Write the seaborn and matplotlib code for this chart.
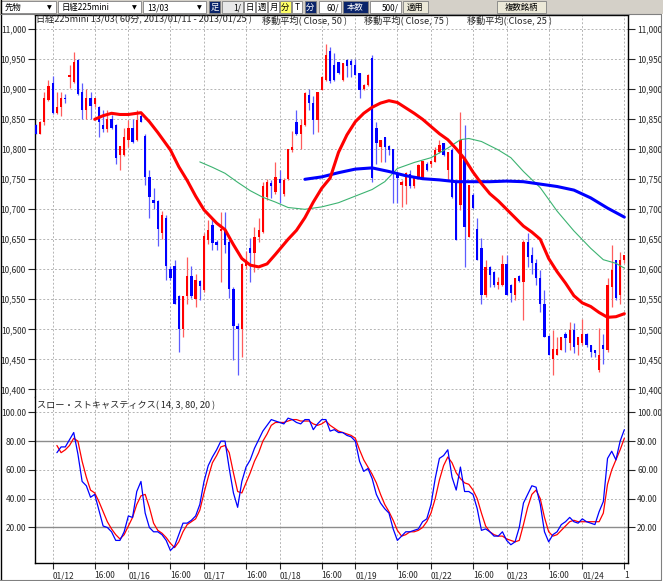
import numpy as np
import pandas as pd
import matplotlib
matplotlib.use("Agg")
import matplotlib.pyplot as plt
import seaborn as sns
from matplotlib.patches import Rectangle
from matplotlib.ticker import FuncFormatter

sns.set_style("white")
plt.rcParams['font.family'] = ['Noto Sans CJK JP', 'DejaVu Sans']

# ---------------- data (60-minute bars, index 0..140) ----------------
opens = [10840, 10825, 10845, 10882, 10911, 10861, 10870, 10886, 10921, 10912,
         10948, 10895, 10866, 10885, 10876, 10870, 10840, 10833, 10850, 10840,
         10790, 10790, 10816, 10835, 10815, 10856, 10822, 10754, 10716, 10713,
         10660, 10685, 10600, 10605, 10555, 10500, 10555, 10589, 10551, 10580,
         10566, 10649, 10674, 10646, 10664, 10664, 10645, 10567, 10506, 10500,
         10605, 10635, 10627, 10654, 10663, 10720, 10744, 10729, 10750, 10726,
         10750, 10799, 10846, 10825, 10840, 10890, 10877, 10849, 10899, 10916,
         10963, 10941, 10945, 10915, 10948, 10947, 10940, 10927, 10900, 10907,
         10952, 10835, 10804, 10821, 10806, 10800, 10760, 10740, 10738, 10759,
         10738, 10754, 10752, 10776, 10776, 10779, 10796, 10810, 10765, 10799,
         10743, 10707, 10785, 10654, 10724, 10668, 10635, 10557, 10604, 10596,
         10574, 10574, 10609, 10574, 10557, 10589, 10579, 10646, 10624, 10610,
         10585, 10543, 10489, 10451, 10457, 10465, 10493, 10477, 10499, 10474,
         10477, 10493, 10474, 10466, 10432, 10474, 10466, 10571, 10616, 10557,
         10616]
highs = [10842, 10847, 10896, 10915, 10922, 10896, 10896, 10892, 10940, 10962,
         10950, 10911, 10900, 10896, 10886, 10872, 10866, 10866, 10857, 10842,
         10806, 10835, 10849, 10850, 10866, 10858, 10826, 10765, 10735, 10716,
         10697, 10690, 10605, 10616, 10558, 10555, 10620, 10605, 10593, 10582,
         10661, 10682, 10685, 10649, 10696, 10696, 10650, 10570, 10510, 10610,
         10630, 10652, 10671, 10685, 10745, 10750, 10749, 10779, 10765, 10752,
         10800, 10831, 10865, 10851, 10896, 10900, 10888, 10896, 10922, 10976,
         10971, 10960, 10946, 10944, 10950, 10951, 10951, 10927, 10908, 10925,
         10957, 10846, 10816, 10821, 10807, 10801, 10762, 10748, 10762, 10765,
         10756, 10776, 10781, 10779, 10782, 10804, 10815, 10811, 10796, 10802,
         10749, 10862, 10840, 10741, 10727, 10685, 10652, 10616, 10605, 10597,
         10588, 10624, 10624, 10575, 10585, 10591, 10649, 10660, 10638, 10618,
         10599, 10565, 10490, 10499, 10488, 10488, 10496, 10513, 10510, 10488,
         10518, 10494, 10474, 10466, 10502, 10493, 10585, 10640, 10616, 10629,
         10624]
lows = [10825, 10825, 10840, 10880, 10858, 10858, 10855, 10877, 10902, 10910,
        10890, 10850, 10850, 10850, 10870, 10820, 10829, 10829, 10833, 10776,
        10765, 10788, 10804, 10810, 10814, 10845, 10740, 10685, 10700, 10639,
        10650, 10583, 10582, 10543, 10463, 10488, 10543, 10552, 10538, 10549,
        10562, 10643, 10633, 10633, 10579, 10628, 10553, 10449, 10424, 10454,
        10600, 10579, 10596, 10646, 10660, 10715, 10719, 10726, 10710, 10722,
        10749, 10795, 10824, 10800, 10838, 10866, 10826, 10829, 10898, 10914,
        10910, 10913, 10926, 10914, 10920, 10920, 10923, 10885, 10898, 10906,
        10746, 10776, 10779, 10779, 10790, 10710, 10710, 10704, 10708, 10735,
        10736, 10751, 10750, 10764, 10770, 10779, 10793, 10788, 10749, 10719,
        10649, 10699, 10604, 10654, 10701, 10615, 10543, 10554, 10571, 10571,
        10568, 10572, 10557, 10546, 10549, 10579, 10515, 10604, 10593, 10574,
        10529, 10488, 10457, 10424, 10457, 10465, 10463, 10466, 10460, 10457,
        10474, 10471, 10454, 10454, 10429, 10443, 10463, 10538, 10549, 10543,
        10610]
closes = [10825, 10845, 10885, 10905, 10861, 10870, 10885, 10884, 10923, 10946,
          10892, 10866, 10885, 10872, 10885, 10845, 10833, 10850, 10835, 10785,
          10805, 10821, 10835, 10812, 10849, 10846, 10754, 10721, 10710, 10668,
          10690, 10605, 10586, 10543, 10500, 10555, 10589, 10555, 10582, 10572,
          10655, 10666, 10644, 10640, 10667, 10640, 10568, 10505, 10500, 10609,
          10616, 10627, 10654, 10666, 10738, 10745, 10738, 10754, 10744, 10749,
          10800, 10804, 10825, 10840, 10893, 10877, 10849, 10896, 10921, 10957,
          10913, 10915, 10927, 10943, 10938, 10940, 10924, 10899, 10907, 10924,
          10752, 10810, 10816, 10804, 10799, 10763, 10752, 10746, 10760, 10738,
          10754, 10774, 10781, 10765, 10781, 10799, 10807, 10791, 10796, 10721,
          10649, 10816, 10671, 10740, 10702, 10615, 10557, 10604, 10590, 10574,
          10579, 10609, 10557, 10560, 10585, 10581, 10646, 10620, 10610, 10585,
          10543, 10488, 10457, 10468, 10468, 10488, 10485, 10499, 10471, 10488,
          10493, 10474, 10463, 10460, 10457, 10468, 10574, 10599, 10552, 10616,
          10624]

# moving averages (bar index, price)
ma25_idx = [14, 16, 18, 20, 22, 25, 27, 29, 32, 34, 36, 38, 40, 43, 45, 47, 49, 51,
            53, 55, 57, 60, 62, 64, 66, 68, 70, 72, 74, 76, 78, 80, 82, 84, 86, 88,
            90, 92, 94, 96, 98, 100, 102, 104, 106, 108, 110, 112, 114, 116, 118,
            120, 122, 124, 126, 128, 130, 132, 134, 136, 138, 140]
ma25_val = [10850, 10856, 10860, 10858, 10858, 10861, 10846, 10828, 10799, 10771,
            10748, 10722, 10699, 10677, 10666, 10641, 10618, 10607, 10604, 10609,
            10625, 10650, 10665, 10686, 10712, 10735, 10752, 10795, 10824, 10846,
            10860, 10870, 10877, 10881, 10878, 10869, 10860, 10850, 10838, 10826,
            10816, 10801, 10784, 10762, 10743, 10726, 10714, 10700, 10686, 10672,
            10662, 10650, 10618, 10596, 10577, 10556, 10544, 10538, 10528, 10520,
            10521, 10526]
ma50_idx = [39, 42, 45, 48, 51, 54, 57, 60, 64, 68, 72, 76, 80, 83, 86, 90, 94, 98,
            101, 103, 106, 110, 113, 116, 120, 124, 128, 132, 135, 138, 140]
ma50_val = [10779, 10770, 10760, 10745, 10731, 10720, 10712, 10703, 10700, 10704,
            10711, 10722, 10733, 10746, 10768, 10778, 10786, 10802, 10816, 10818,
            10813, 10799, 10786, 10763, 10736, 10697, 10664, 10635, 10616, 10610,
            10602]
ma75_idx = [64, 68, 72, 76, 80, 84, 88, 92, 96, 100, 104, 108, 112, 116, 120, 124,
            128, 132, 136, 140]
ma75_val = [10750, 10754, 10761, 10767, 10769, 10763, 10756, 10751, 10749, 10746,
            10746, 10746, 10747, 10746, 10742, 10738, 10732, 10719, 10702, 10687]

# slow stochastics (bar index 5..140)
stoch_idx = list(range(5, 141))
stoch_k = [72, 76, 76, 81, 86, 71, 52, 49, 41, 43, 32, 21, 20, 17, 11, 11, 17, 28, 27,
           45, 52, 30, 20, 17, 17, 15, 11, 4, 7, 15, 23, 23, 25, 28, 36, 52, 63, 69,
           74, 80, 80, 61, 44, 34, 52, 62, 67, 75, 81, 87, 91, 95, 94, 93, 92, 96, 95,
           93, 92, 95, 95, 88, 92, 95, 95, 87, 88, 86, 86, 84, 83, 80, 66, 59, 61, 54,
           43, 37, 33, 30, 19, 11, 14, 17, 17, 18, 19, 24, 26, 36, 54, 68, 70, 74, 55,
           46, 62, 45, 45, 43, 33, 18, 19, 17, 14, 14, 17, 11, 8, 10, 20, 37, 43, 49,
           48, 36, 17, 10, 15, 17, 22, 24, 27, 24, 23, 26, 24, 23, 22, 31, 38, 68, 73,
           67, 80, 88]
stoch_d = [77, 72, 74, 77, 82, 80, 66, 55, 46, 44, 38, 31, 24, 19, 15, 12, 15, 21, 27,
           36, 42, 43, 34, 23, 18, 16, 13, 9, 6, 10, 17, 22, 24, 26, 32, 44, 55, 65,
           70, 76, 77, 72, 58, 45, 44, 51, 58, 66, 72, 80, 85, 91, 93, 93, 93, 94, 95,
           95, 94, 94, 94, 92, 91, 92, 94, 91, 89, 87, 86, 85, 84, 82, 74, 67, 62, 57,
           51, 43, 36, 31, 25, 18, 14, 15, 17, 17, 18, 20, 24, 30, 40, 53, 63, 69, 65,
           58, 54, 51, 50, 46, 40, 30, 21, 17, 15, 14, 14, 12, 11, 10, 11, 22, 34, 43,
           46, 40, 27, 17, 14, 15, 18, 21, 24, 25, 24, 24, 24, 24, 24, 24, 30, 50, 60,
           67, 74, 82]

tick_idx = [4, 14, 22, 32, 40, 50, 58, 68, 76, 86, 94, 104, 112, 122, 130, 140]
tick_labels = ["01/12", "16:00", "01/16", "16:00", "01/17", "16:00", "01/18", "16:00",
               "01/19", "16:00", "01/22", "16:00", "01/23", "16:00", "01/24", "1"]
price_ticks = list(range(10400, 11001, 50))
stoch_ticks = [20, 40, 60, 80, 100]

# ---------------- figure ----------------
W, H = 663, 581
fig = plt.figure(figsize=(W / 100, H / 100), dpi=100)
fig.patch.set_facecolor('white')


def fx(px):
    return px / W


def fy(py):
    return 1 - py / H


ax_p = fig.add_axes([fx(35), fy(397), fx(628) - fx(35), fy(15) - fy(397)])
ax_s = fig.add_axes([fx(35), fy(563), fx(628) - fx(35), fy(397) - fy(563)], sharex=ax_p)

grid_kw = dict(color='#b4b4b4', linestyle=(0, (2, 2)), linewidth=0.7)
LAB = 6

# candles
x = np.arange(len(opens))
o = np.array(opens, float)
c = np.array(closes, float)
h = np.array(highs, float)
l = np.array(lows, float)
up = c >= o
body_col = np.where(up, '#ff0000', '#0000ff')
wick_col = np.where(up, '#ff5c5c', '#5c5cff')
ax_p.vlines(x, l, h, colors=wick_col, linewidth=0.9, zorder=3)
ax_p.bar(x, np.maximum(np.abs(c - o), 1.6), bottom=np.minimum(o, c), width=0.55,
         color=body_col, linewidth=0, zorder=4)

sns.lineplot(x=ma50_idx, y=ma50_val, ax=ax_p, color='#3cb371', linewidth=0.8,
             zorder=5, estimator=None, sort=False)
sns.lineplot(x=ma75_idx, y=ma75_val, ax=ax_p, color='#0000ff', linewidth=2.2,
             zorder=6, estimator=None, sort=False)
sns.lineplot(x=ma25_idx, y=ma25_val, ax=ax_p, color='#ff0000', linewidth=2.2,
             zorder=6, estimator=None, sort=False)

ax_p.set_xlim(-0.21, 140.87)
ax_p.set_ylim(10387.2, 11023.8)
ax_p.set_yticks(price_ticks)
ax_p.yaxis.set_major_formatter(FuncFormatter(lambda v, p: f"{int(round(v)):,}"))
ax_p.grid(True, **grid_kw)
ax_p.set_axisbelow(True)
ax_p.tick_params(axis='y', left=True, right=True, labelleft=True, labelright=True,
                 direction='out', length=5, width=0.8, pad=1.5, labelsize=LAB)
ax_p.tick_params(axis='x', bottom=False, labelbottom=False)
for s in ['left', 'right', 'top']:
    ax_p.spines[s].set_color('black')
    ax_p.spines[s].set_linewidth(1.0)
ax_p.spines['bottom'].set_visible(False)
ax_p.set_xlabel('')
ax_p.set_ylabel('')

# stochastics
sns.lineplot(x=stoch_idx, y=stoch_d, ax=ax_s, color='#ff0000', linewidth=0.9,
             zorder=4, estimator=None, sort=False)
sns.lineplot(x=stoch_idx, y=stoch_k, ax=ax_s, color='#0000ff', linewidth=0.9,
             zorder=5, estimator=None, sort=False)
ax_s.set_ylim(-4.7, 110.7)
ax_s.set_yticks(stoch_ticks)
ax_s.yaxis.set_major_formatter(FuncFormatter(lambda v, p: f"{v:.2f}"))
ax_s.grid(True, **grid_kw)
ax_s.set_axisbelow(True)
for lvl in (20, 80):
    ax_s.axhline(lvl, color='#8c8c8c', linewidth=1.0, zorder=2)
ax_s.set_xticks(tick_idx)
ax_s.set_xticklabels(tick_labels, ha='left')
ax_s.tick_params(axis='y', left=True, right=True, labelleft=True, labelright=True,
                 direction='out', length=5, width=0.8, pad=1.5, labelsize=LAB)
ax_s.tick_params(axis='x', bottom=True, direction='out', length=4, width=0.8,
                 pad=2, labelsize=LAB)
for s in ['left', 'right', 'bottom']:
    ax_s.spines[s].set_color('black')
    ax_s.spines[s].set_linewidth(1.0)
ax_s.spines['top'].set_visible(False)
ax_s.set_xlabel('')
ax_s.set_ylabel('')

# titles inside panels
TF = 6.6
fig.text(fx(36), fy(20), "日経225mini 13/03( 60分, 2013/01/11 - 2013/01/25 )",
         fontsize=TF, va='center', ha='left')
fig.text(fx(262), fy(20), "移動平均( Close, 50 )", fontsize=TF, va='center', ha='left')
fig.text(fx(364), fy(20), "移動平均( Close, 75 )", fontsize=TF, va='center', ha='left')
fig.text(fx(467), fy(20), "移動平均( Close, 25 )", fontsize=TF, va='center', ha='left')
fig.text(fx(37), fy(406), "スロー・ストキャスティクス( 14, 3, 80, 20 )", fontsize=TF,
         va='center', ha='left')

# ---------------- toolbar / frame overlay ----------------
ov = fig.add_axes([0, 0, 1, 1], zorder=10)
ov.set_xlim(0, W)
ov.set_ylim(H, 0)
ov.axis('off')
ov.patch.set_alpha(0)
ov.add_patch(Rectangle((0, 0), W, 14, facecolor='#d4d0c8', edgecolor='none'))
items = [
    (1, 56, "先物", 'white', 'black'),
    (58, 141, "日経225mini", 'white', 'black'),
    (143, 206, "13/03", 'white', 'black'),
    (209, 220, "足", '#0a246a', 'white'),
    (222, 243, "1/", '#e8e8e8', 'black'),
    (244, 255, "日", 'white', 'black'),
    (256, 267, "週", 'white', 'black'),
    (268, 279, "月", 'white', 'black'),
    (280, 291, "分", '#ffff66', 'black'),
    (292, 302, "T", 'white', 'black'),
    (305, 316, "分", '#0a246a', 'white'),
    (319, 341, "60/", 'white', 'black'),
    (343, 368, "本数", '#0a246a', 'white'),
    (370, 401, "500/", 'white', 'black'),
    (403, 428, "適用", '#ece9d8', 'black'),
    (497, 546, "複数銘柄", '#ece9d8', 'black'),
]
for x0, x1, t, bg, fg in items:
    ov.add_patch(Rectangle((x0, 1), x1 - x0, 12, facecolor=bg, edgecolor='#808080',
                           linewidth=0.6))
    if t in ("先物", "日経225mini", "13/03"):
        ov.text(x0 + 4, 7.5, t, fontsize=6, color=fg, va='center', ha='left')
        ov.text(x1 - 7, 7.5, "▼", fontsize=4.5, color='black', va='center',
                ha='center', family=['DejaVu Sans'])
    elif t.endswith("/"):
        ov.text(x1 - 2, 7.5, t, fontsize=6, color=fg, va='center', ha='right')
    else:
        ov.text((x0 + x1) / 2, 7.5, t, fontsize=6, color=fg, va='center', ha='center')
# outer frame
ov.plot([0.5, 0.5], [0, 580], color='black', linewidth=1.0)
ov.plot([0, 661], [14, 14], color='#808080', linewidth=0.8)
ov.plot([660.5, 660.5], [14, 580], color='#808080', linewidth=0.8)
ov.plot([0, 661], [580, 580], color='#808080', linewidth=0.8)

fig.savefig("out.png", dpi=100)
